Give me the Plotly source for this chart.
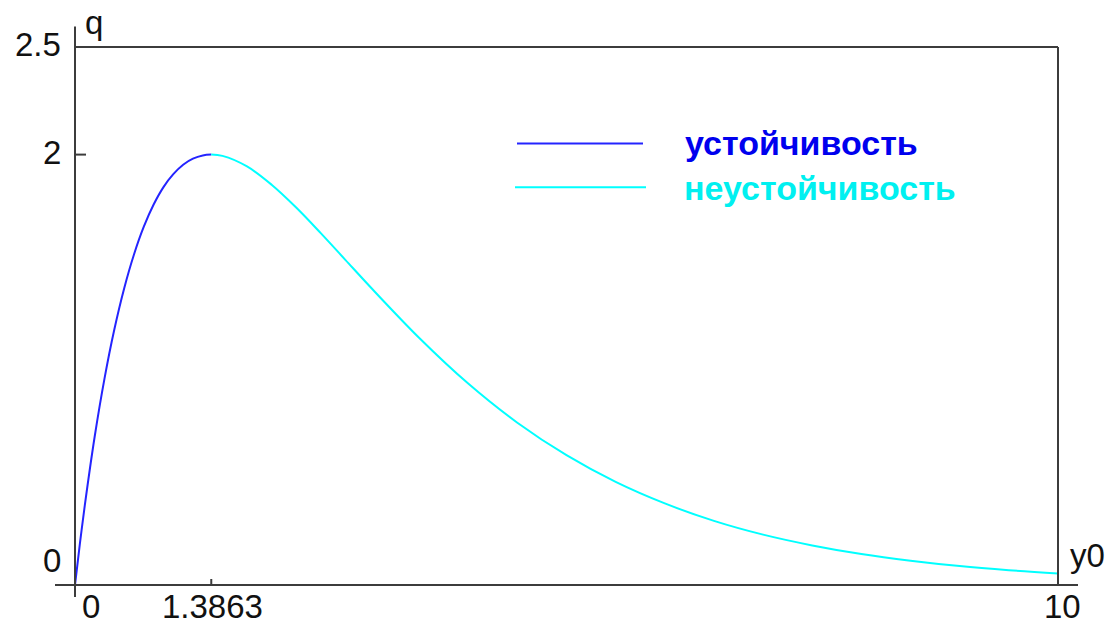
import plotly.graph_objects as go

# stable branch (blue) and unstable branch (cyan)
x_stable = [0, 0.05, 0.1, 0.2, 0.3, 0.4, 0.5, 0.6, 0.7, 0.8, 0.9, 1.0, 1.1, 1.2, 1.3, 1.3863]
q_stable = [0, 0.193, 0.371, 0.689, 0.959, 1.187, 1.378, 1.536, 1.665, 1.768, 1.849, 1.909, 1.953, 1.981, 1.996, 2.0]

x_unstable = [1.3863, 1.5, 1.75, 2.0, 2.25, 2.5, 2.75, 3.0, 3.5, 4.0, 4.5, 5.0, 5.5, 6.0,
              6.5, 7.0, 7.5, 8.0, 8.5, 9.0, 9.5, 10.0]
q_unstable = [2.0, 1.994, 1.945, 1.860, 1.754, 1.635, 1.511, 1.387, 1.149, 0.936, 0.754, 0.603,
              0.479, 0.379, 0.298, 0.234, 0.184, 0.144, 0.113, 0.088, 0.069, 0.054]

x_ticks = [0, 1.3863, 10]
x_tick_labels = ["0", "1.3863", "10"]
y_ticks = [0, 2, 2.5]
y_tick_labels = ["0", "2", "2.5"]
legend_names = ["устойчивость", "неустойчивость"]

BLUE = "#2424ff"
CYAN = "#00ffff"
AXC = "#3c3c3c"
FONT = "Liberation Sans"
FS = 33

fig = go.Figure()
fig.add_trace(go.Scatter(x=x_stable, y=q_stable, mode="lines", line=dict(color=BLUE, width=2),
                         name=legend_names[0], showlegend=False, line_shape="spline"))
fig.add_trace(go.Scatter(x=x_unstable, y=q_unstable, mode="lines", line=dict(color=CYAN, width=2),
                         name=legend_names[1], showlegend=False, line_shape="spline"))

PW, PH = 983.0, 538.5
def px(dx):
    return dx / PW
def py(dy):
    return dy / PH

shapes = []
# frame / axes
shapes.append(dict(type="line", xref="paper", yref="paper", x0=0, x1=0, y0=py(-12), y1=py(559),
                   line=dict(color=AXC, width=2)))
shapes.append(dict(type="line", xref="paper", yref="paper", x0=px(-20), x1=px(1003), y0=0, y1=0,
                   line=dict(color=AXC, width=2)))
shapes.append(dict(type="line", xref="paper", yref="paper", x0=0, x1=1, y0=1, y1=1,
                   line=dict(color=AXC, width=2)))
shapes.append(dict(type="line", xref="paper", yref="paper", x0=1, x1=1, y0=0, y1=1,
                   line=dict(color=AXC, width=2)))
# tick marks
shapes.append(dict(type="line", xref="paper", yref="y", x0=0, x1=px(11), y0=y_ticks[1], y1=y_ticks[1],
                   line=dict(color=AXC, width=2)))
shapes.append(dict(type="line", xref="x", yref="paper", x0=x_ticks[1], x1=x_ticks[1], y0=0, y1=py(6),
                   line=dict(color=AXC, width=2)))
# legend samples
shapes.append(dict(type="line", xref="paper", yref="paper", x0=px(517 - 75), x1=px(643 - 75),
                   y0=py(585 - 143), y1=py(585 - 143), line=dict(color=BLUE, width=2)))
shapes.append(dict(type="line", xref="paper", yref="paper", x0=px(515 - 75), x1=px(646 - 75),
                   y0=py(585 - 187), y1=py(585 - 187), line=dict(color=CYAN, width=2)))

ann = []
# y tick labels
y_shifts = [25, 2, 3]
for v, t, s in zip(y_ticks, y_tick_labels, y_shifts):
    ann.append(dict(x=0, xref="paper", y=v, yref="y", text=t, showarrow=False, xanchor="right",
                    yanchor="middle", xshift=-12, yshift=s, font=dict(family=FONT, size=FS, color="#111")))
# x tick labels
x_shifts = [16, 1, 4]
for v, t, s in zip(x_ticks, x_tick_labels, x_shifts):
    ann.append(dict(x=v, xref="x", y=0, yref="paper", text=t, showarrow=False, xanchor="center",
                    yanchor="middle", xshift=s, yshift=-21, font=dict(family=FONT, size=FS, color="#111")))
# axis names
ann.append(dict(x=0, xref="paper", y=1, yref="paper", text="q", showarrow=False, xanchor="center",
                yanchor="middle", xshift=19, yshift=25, font=dict(family=FONT, size=FS, color="#111")))
ann.append(dict(x=1, xref="paper", y=0, yref="paper", text="y0", showarrow=False, xanchor="center",
                yanchor="middle", xshift=29, yshift=30, font=dict(family=FONT, size=FS, color="#111")))
# legend texts
ann.append(dict(x=px(683 - 75), xref="paper", y=py(585 - 143), yref="paper", text="<b>" + legend_names[0] + "</b>",
                showarrow=False, xanchor="left", yanchor="middle",
                font=dict(family=FONT, size=34, color="#0000ee")))
ann.append(dict(x=px(682 - 75), xref="paper", y=py(585 - 188), yref="paper", text="<b>" + legend_names[1] + "</b>",
                showarrow=False, xanchor="left", yanchor="middle",
                font=dict(family=FONT, size=34, color="#00f0f0")))

fig.update_layout(
    width=1119, height=628,
    margin=dict(l=75, r=61, t=46.5, b=43),
    paper_bgcolor="white", plot_bgcolor="white",
    xaxis=dict(range=[0, 10], showgrid=False, zeroline=False, showline=False, showticklabels=False, ticks=""),
    yaxis=dict(range=[0, 2.5], showgrid=False, zeroline=False, showline=False, showticklabels=False, ticks=""),
    shapes=shapes, annotations=ann, showlegend=False,
)
# remove the default 8px page margin so the figure fills the window exactly
fig.write_html("out.html", config={"displayModeBar": False},
               post_script="document.body.style.margin='0px';document.body.style.overflow='hidden';")
